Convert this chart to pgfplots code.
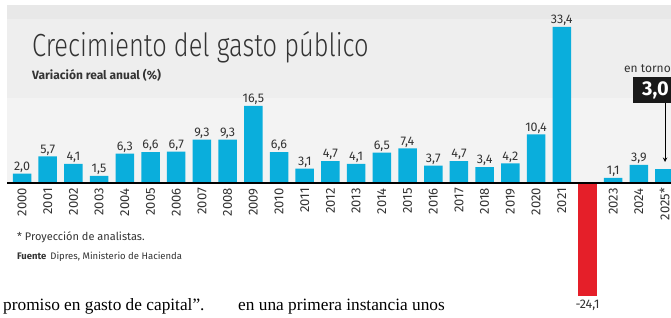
\documentclass[border=0pt]{standalone}
\usepackage{pgfplots}
\pgfplotsset{compat=1.18}
\usepackage{pgfplotstable}
\usepackage{fontspec}
\setmainfont{Fira Sans}
\newfontfamily\titlefont[FakeStretch=0.795]{Fira Sans Light}
\newfontfamily\bodyfont{Liberation Serif}
\definecolor{barblue}{HTML}{0AAEDC}
\definecolor{barred}{HTML}{E51F29}
\definecolor{bgA}{HTML}{E8E8E8}
\definecolor{bgB}{HTML}{EEEEEE}
\definecolor{bgC}{HTML}{F3F3F3}
\definecolor{txt}{HTML}{333333}

\pgfplotstableread{
x y
0 2.0
1 5.7
2 4.1
3 1.5
4 6.3
5 6.6
6 6.7
7 9.3
8 9.3
9 16.5
10 6.6
11 3.1
12 4.7
13 4.1
14 6.5
15 7.4
16 3.7
17 4.7
18 3.4
19 4.2
20 10.4
21 33.4
23 1.1
24 3.9
}\bluedata

\begin{document}
\begin{tikzpicture}[x=1pt,y=1pt]
\path[use as bounding box] (0,0) rectangle (671,-318);
\fill[white] (0,0) rectangle (671,-318);
\begin{axis}[
  at={(7pt,-183pt)}, anchor=south west,
  scale only axis, width=664pt, height=178pt,
  xmin=-0.584, xmax=25.25, ymin=0, ymax=38.1,
  clip=false,
  axis on top,
  axis x line*=bottom, axis y line=none,
  x axis line style={black, line width=1.2pt, -},
  ybar, bar width=18.5pt,
  xtick={0,...,25},
  xticklabels={2000,2001,2002,2003,2004,2005,2006,2007,2008,2009,2010,2011,2012,2013,2014,2015,2016,2017,2018,2019,2020,2021,{},2023,2024,2025*},
  xtick style={draw=none},
  major tick length=0pt,
  xticklabel shift=5pt,
  xticklabel style={rotate=90, anchor=east, inner sep=0pt, font=\fontsize{13}{13}\selectfont, text=txt},
  ytick=\empty,
  /pgf/number format/assume math mode=true,
  nodes near coords style={font=\fontsize{12.5}{12.5}\selectfont, text=txt, inner sep=1pt},
]
\fill[bgA] (axis cs:-0.584,35.1) rectangle (axis cs:25.25,38.1);
\fill[bgB] (axis cs:-0.584,18.2) rectangle (axis cs:25.25,35.1);
\fill[bgC] (axis cs:-0.584,0) rectangle (axis cs:25.25,18.2);

\addplot[ybar, bar shift=0pt, fill=barblue, draw=none,
  nodes near coords={\pgfmathprintnumber[use comma,fixed,fixed zerofill,precision=1]{\pgfplotspointmeta}}]
  table[x=x,y=y]{\bluedata};
\addplot[ybar, bar shift=0pt, fill=barred, draw=none,
  nodes near coords={\pgfmathprintnumber[use comma,fixed,fixed zerofill,precision=1]{\pgfplotspointmeta}},
  nodes near coords style={anchor=north, yshift=-3pt}]
  coordinates {(22,-24.1)};
\addplot[ybar, bar shift=0pt, fill=barblue, draw=none] coordinates {(25,3.0)};

\node[anchor=base west, inner sep=0pt, text=txt, font=\fontsize{12}{12}\selectfont] at (axis cs:23.42,23.55) {en torno a};
\fill[black!90] (axis cs:23.77,17.1) rectangle (axis cs:25.6,22.7);
\node[anchor=west, inner sep=0pt, text=white, font=\bfseries\fontsize{20}{20}\selectfont] at (axis cs:24.12,19.9) {3,0};
\draw[black, line width=1pt, -{stealth}] (axis cs:25.02,17.1) -- (axis cs:25.02,4.5);
\end{axis}

\node[anchor=base west, inner sep=0pt, text=txt] at (32,-57) {\titlefont\fontsize{32}{32}\selectfont Crecimiento del gasto público};
\node[anchor=base west, inner sep=0pt, text=txt] at (32,-80) {\bfseries\fontsize{12}{12}\selectfont Variación real anual (\%)};
\node[anchor=base west, inner sep=0pt, text=txt] at (17,-240) {\fontsize{11}{11}\selectfont * Proyección de analistas.};
\node[anchor=base west, inner sep=0pt, text=txt] at (17,-259) {\fontsize{9.5}{9.5}\selectfont\textbf{Fuente}\hspace{4pt}Dipres, Ministerio de Hacienda};
\node[anchor=base west, inner sep=0pt, text=black] at (3,-310) {\bodyfont\fontsize{17.3}{17.3}\selectfont promiso en gasto de capital”.};
\node[anchor=base west, inner sep=0pt, text=black] at (238,-310) {\bodyfont\fontsize{17.3}{17.3}\selectfont en una primera instancia unos};
\end{tikzpicture}
\end{document}
